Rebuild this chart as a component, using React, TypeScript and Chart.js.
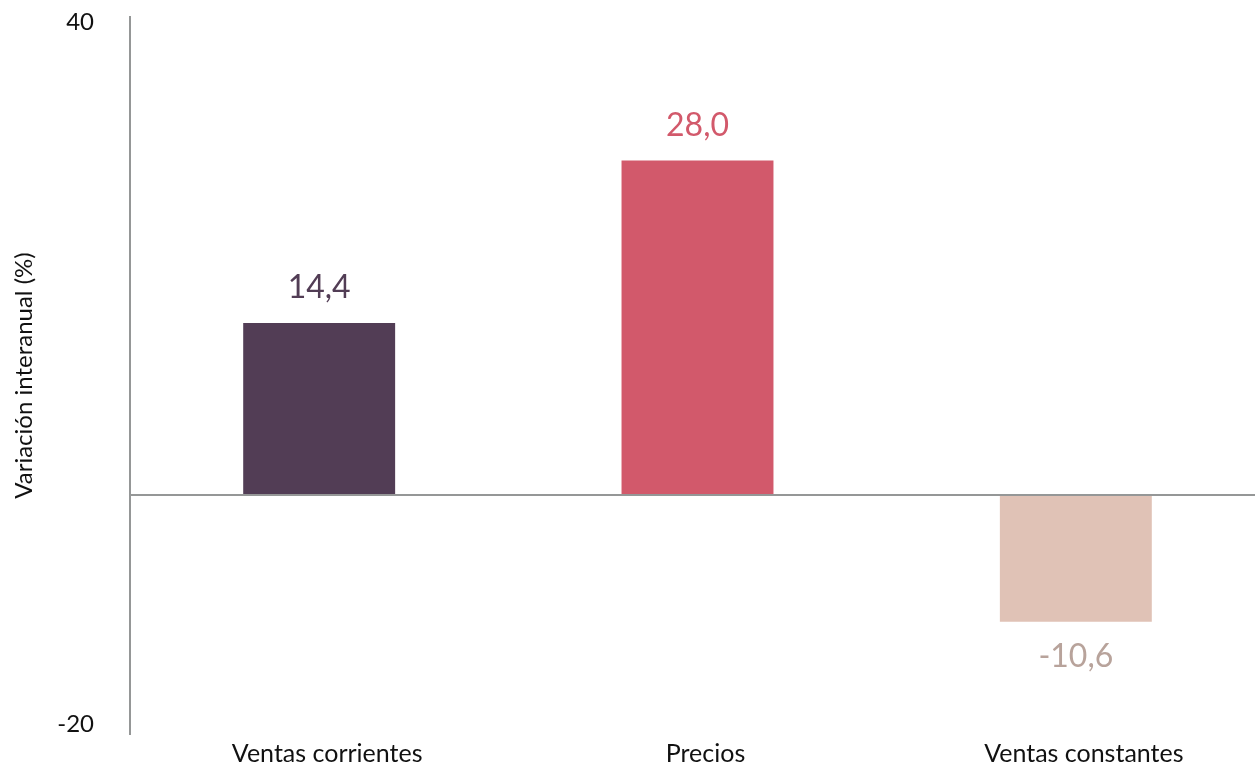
import React, { useEffect, useRef } from "react";
import { Chart, registerables } from "chart.js";

Chart.register(...registerables);

const categories = ["Ventas corrientes", "Precios", "Ventas constantes"];
const values = [14.4, 28.0, -10.6];
const valueLabels = ["14,4", "28,0", "-10,6"];
const barColors = ["#523D55", "#D2596B", "#E0C2B6"];
const labelColors = ["#523D55", "#D2596B", "#B8A39B"];
const yTickLabels: Record<number, string[]> = { 40: ["", "40"], [-20]: ["-20", "", ""] };
const yTitle = "Variación interanual (%)";

const FONT = "Lato, 'Open Sans', sans-serif";

const valueLabelPlugin = {
  id: "valueLabels",
  afterDatasetsDraw(chart: any) {
    const ctx = chart.ctx;
    const meta = chart.getDatasetMeta(0);
    ctx.save();
    ctx.font = `32px ${FONT}`;
    ctx.textAlign = "center";
    ctx.textBaseline = "middle";
    meta.data.forEach((bar: any, i: number) => {
      const v = values[i];
      ctx.fillStyle = labelColors[i];
      const y = v >= 0 ? bar.y - 35 : bar.y + 35;
      ctx.fillText(valueLabels[i], bar.x, y);
    });
    ctx.restore();
  },
};

export default function App() {
  const ref = useRef<HTMLCanvasElement>(null);
  useEffect(() => {
    if (!ref.current) return;
    const chart = new Chart(ref.current, {
      type: "bar",
      data: {
        labels: categories,
        datasets: [
          {
            data: values,
            backgroundColor: barColors,
            borderWidth: 0,
            barPercentage: 0.4016,
            categoryPercentage: 1,
          },
        ],
      },
      options: {
        animation: false,
        responsive: false,
        maintainAspectRatio: false,
        layout: { padding: { top: 17, right: 0, left: 0, bottom: 0 } },
        plugins: { legend: { display: false }, tooltip: { enabled: false } },
        scales: {
          x: {
            grid: { display: false, drawTicks: false },
            border: { display: false },
            ticks: {
              color: "#111",
              font: { family: FONT, size: 25 },
              padding: 5,
              labelOffset: 8,
              maxRotation: 0,
              autoSkip: false,
            },
            afterFit(scale: any) {
              scale.height = 35;
              scale.paddingLeft = 0;
              scale.paddingRight = 0;
            },
          },
          y: {
            min: -20,
            max: 40,
            border: { display: true, color: "#959797", width: 2 },
            grid: {
              drawTicks: false,
              lineWidth: 2,
              color: (c: any) => (c.tick && c.tick.value === 0 ? "#959797" : "rgba(0,0,0,0)"),
            },
            ticks: {
              stepSize: 20,
              padding: 36,
              color: "#111",
              font: { family: FONT, size: 24, lineHeight: 0.4 },
              callback: (v: any) => yTickLabels[v as number] || "",
            },
            title: {
              display: true,
              text: yTitle,
              color: "#111",
              font: { family: FONT, size: 24 },
              padding: { top: 10, bottom: 0 },
            },
            afterFit(scale: any) {
              scale.width = 130;
              scale.paddingTop = 0;
              scale.paddingBottom = 0;
            },
          },
        },
      },
      plugins: [valueLabelPlugin],
    });
    return () => chart.destroy();
  }, []);
  return (
    <div style={{ position: "absolute", left: 0, top: 0, width: 1255, height: 769, overflow: "hidden" }}>
      <canvas ref={ref} width={1265} height={769} style={{ display: "block" }} />
    </div>
  );
}
